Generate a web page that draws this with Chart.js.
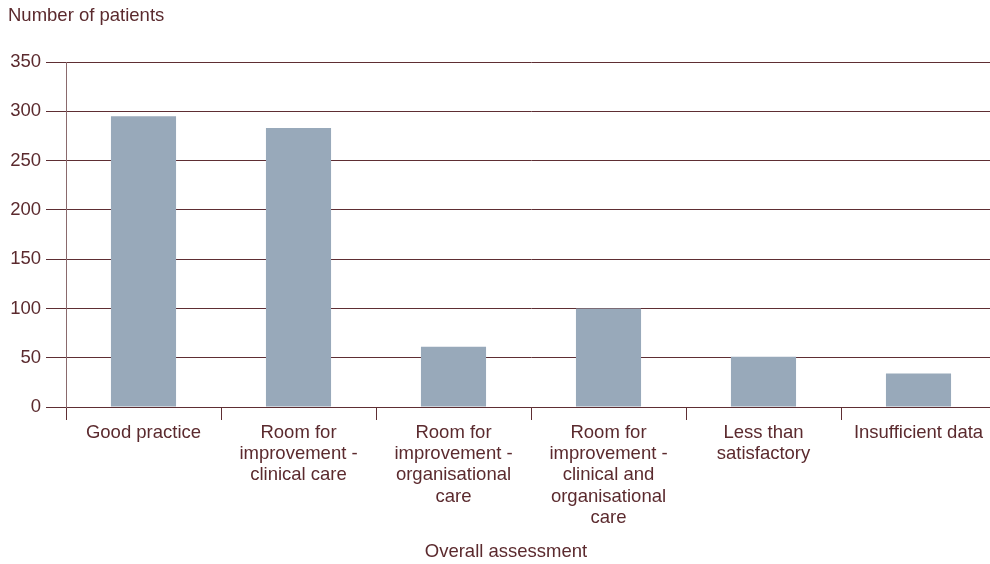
<!DOCTYPE html>
<html>
<head>
<meta charset="utf-8">
<script src="https://cdn.jsdelivr.net/npm/chart.js@4"></script>
<style>
  html, body { margin: 0; padding: 0; background: #fff; overflow: hidden; }
  #wrap { width: 996px; height: 564px; }
</style>
</head>
<body>
<div id="wrap"><canvas id="assessmentChart"></canvas></div>
<script>
const categories = [
    'Good practice',
    ['Room for', 'improvement -', 'clinical care'],
    ['Room for', 'improvement -', 'organisational', 'care'],
    ['Room for', 'improvement -', 'clinical and', 'organisational', 'care'],
    ['Less than', 'satisfactory'],
    'Insufficient data'
];
const patients = [295, 283, 61, 100, 51, 34];
const yTicks = [0, 50, 100, 150, 200, 250, 300, 350];

const textColor = '#5b2a2e';
const lineColor = '#5e2e33';
const fontFamily = '"Liberation Sans", Arial, Helvetica, sans-serif';
const fontSize = 18.5;

// axis titles drawn at fixed spots, like the original
const titles = {
    id: 'titles',
    afterDraw(chart) {
        const ctx = chart.ctx;
        ctx.save();
        ctx.fillStyle = textColor;
        ctx.font = fontSize + 'px ' + fontFamily;
        ctx.textBaseline = 'middle';
        ctx.textAlign = 'left';
        ctx.fillText('Number of patients', 8, 16);
        ctx.textAlign = 'center';
        ctx.fillText('Overall assessment', 506, 552);
        ctx.restore();
    }
};

const ctx = document.getElementById('assessmentChart').getContext('2d');
new Chart(ctx, {
    type: 'bar',
    data: {
        labels: categories,
        datasets: [{
            label: 'Number of patients',
            data: patients,
            backgroundColor: '#98a9ba',
            categoryPercentage: 1,
            barPercentage: 0.42
        }]
    },
    options: {
        responsive: true,
        maintainAspectRatio: false,
        animation: false,
        layout: { padding: { top: 62, right: 0, left: 0, bottom: 0 } },
        plugins: {
            legend: { display: false },
            tooltip: { enabled: false }
        },
        scales: {
            x: {
                offset: true,
                grid: {
                    offset: true,
                    drawOnChartArea: false,
                    color: lineColor,
                    tickLength: 13
                },
                border: { color: lineColor, width: 1 },
                ticks: {
                    color: textColor,
                    font: { family: fontFamily, size: fontSize, lineHeight: 1.15 },
                    maxRotation: 0,
                    autoSkip: false,
                    padding: 2
                },
                afterFit(scale) { scale.height = 157; }
            },
            y: {
                min: 0,
                max: 350,
                afterBuildTicks(scale) {
                    scale.ticks = yTicks.map(v => ({ value: v }));
                },
                grid: {
                    color: lineColor,
                    tickLength: 20
                },
                border: { color: '#8a6a6d', width: 1 },
                ticks: {
                    color: textColor,
                    font: { family: fontFamily, size: fontSize },
                    padding: 5
                },
                afterFit(scale) { scale.width = 66; }
            }
        }
    },
    plugins: [titles]
});
</script>
</body>
</html>
